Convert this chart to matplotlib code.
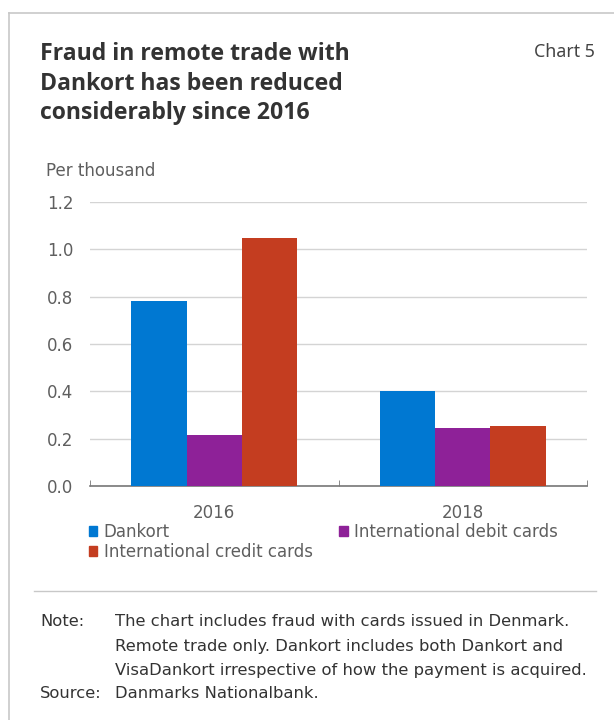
# Chart 5: fraud in remote trade, per thousand
import numpy as np
from matplotlib import pyplot as plt
from matplotlib.patches import Patch
from matplotlib.lines import Line2D

# データ
years = ["2016", "2018"]
series = ["Dankort", "International debit cards", "International credit cards"]
dankort = [0.78, 0.40]
debit = [0.215, 0.245]
credit = [1.05, 0.255]
colors = ["#0078d2", "#8e2198", "#c43d20"]
yticks = [0.0, 0.2, 0.4, 0.6, 0.8, 1.0, 1.2]
title_lines = ["Fraud in remote trade with", "Dankort has been reduced", "considerably since 2016"]
notes = ["The chart includes fraud with cards issued in Denmark.",
         "Remote trade only. Dankort includes both Dankort and",
         "VisaDankort irrespective of how the payment is acquired."]

plt.rcParams["font.family"] = ["DejaVu Sans"]
txt = "#5f5f5f"
dark = "#333333"

fig = plt.figure(figsize=(6.14, 7.2), dpi=100)
W, H = 614.0, 720.0

# 枠線
fig.add_artist(Line2D([9/W, 9/W], [0, 1 - 13/H], color="#c8c8c8", lw=1.2))
fig.add_artist(Line2D([9/W, 1], [1 - 13/H, 1 - 13/H], color="#c8c8c8", lw=1.2))
fig.add_artist(Line2D([34/W, 596/W], [1 - 591/H, 1 - 591/H], color="#c8c8c8", lw=1.0))

for k, line in enumerate(title_lines):
    fig.text(40/W, 1 - (60 + 29.5*k)/H, line, fontsize=16.6, fontweight="bold", color=dark,
             va="baseline", family=["Open Sans", "DejaVu Sans"])
fig.text(595/W, 1 - 52/H, "Chart 5", fontsize=12.8, color="#444444", ha="right", va="center",
         family=["Noto Sans", "DejaVu Sans"])
fig.text(46/W, 1 - 171/H, "Per thousand", fontsize=12, color=txt, va="center")

ax = fig.add_axes([90/W, 1 - 486/H, (587 - 90)/W, (486 - 202)/H])
x = np.arange(len(years))
w = 0.222
for i, (vals, name) in enumerate(zip([dankort, debit, credit], series)):
    ax.bar(x + (i - 1)*w, vals, w, color=colors[i], label=name, zorder=3)

ax.set_xlim(-0.5, 1.5)
ax.set_ylim(0, 1.2)
ax.set_yticks(yticks)
ax.set_yticklabels(["%.1f" % v for v in yticks])
ax.yaxis.grid(True, color="#d4d4d4", lw=1.0, zorder=0)
ax.set_xticks(x)
ax.set_xticklabels(years)
ax.set_xticks([-0.5, 0.5, 1.5], minor=True)
ax.tick_params(axis="x", which="major", length=0, pad=13, labelsize=12, labelcolor=txt)
ax.tick_params(axis="x", which="minor", direction="in", length=4, color="#777777")
ax.tick_params(axis="y", length=0, pad=12, labelsize=12, labelcolor=txt)
for s in ["top", "right", "left"]:
    ax.spines[s].set_visible(False)
ax.spines["bottom"].set_color("#777777")
ax.spines["bottom"].set_linewidth(1.2)

# 凡例
handles = [Patch(color=colors[0]), Patch(color=colors[2]), Patch(color=colors[1])]
labels = [series[0], series[2], series[1]]
fig.legend(handles, labels, ncol=2, loc="upper left", bbox_to_anchor=(82/W, 1 - 516/H),
           frameon=False, fontsize=12, labelcolor=txt, handlelength=0.5, handleheight=0.5,
           handletextpad=0.4, columnspacing=1.6, labelspacing=0.12, borderaxespad=0)

fig.text(40/W, 1 - 622/H, "Note:", fontsize=11.8, color=dark, va="center")
for k, line in enumerate(notes):
    fig.text(115/W, 1 - (622 + 24*k)/H, line, fontsize=11.8, color=dark, va="center")
fig.text(40/W, 1 - 694/H, "Source:", fontsize=11.8, color=dark, va="center")
fig.text(115/W, 1 - 694/H, "Danmarks Nationalbank.", fontsize=11.8, color=dark, va="center")

plt.savefig("out.png", dpi=100)
